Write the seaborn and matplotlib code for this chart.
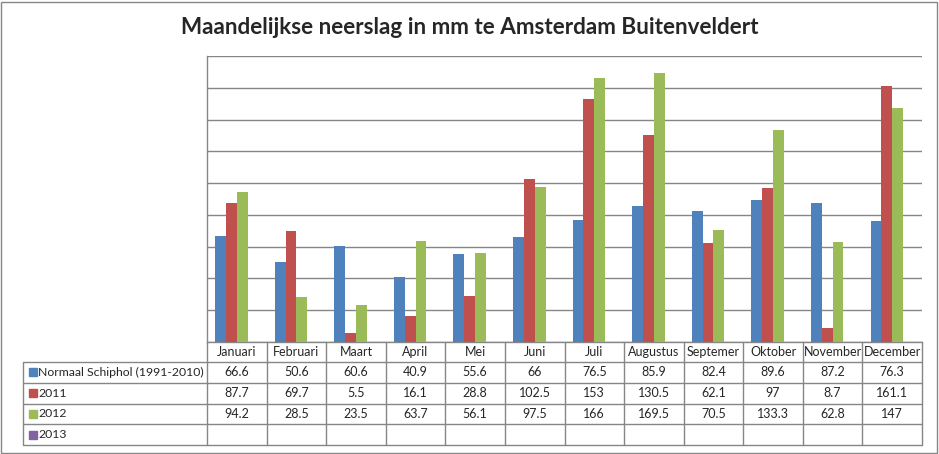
import numpy as np
import pandas as pd
import seaborn as sns
import matplotlib.pyplot as plt
from matplotlib.patches import Rectangle
from matplotlib.transforms import blended_transform_factory

months = ['Januari', 'Februari', 'Maart', 'April', 'Mei', 'Juni', 'Juli',
          'Augustus', 'Septemer', 'Oktober', 'November', 'December']
series = ['Normaal Schiphol (1991-2010)', '2011', '2012', '2013']
normaal = [66.6, 50.6, 60.6, 40.9, 55.6, 66, 76.5, 85.9, 82.4, 89.6, 87.2, 76.3]
y2011 = [87.7, 69.7, 5.5, 16.1, 28.8, 102.5, 153, 130.5, 62.1, 97, 8.7, 161.1]
y2012 = [94.2, 28.5, 23.5, 63.7, 56.1, 97.5, 166, 169.5, 70.5, 133.3, 62.8, 147]
y2013 = [np.nan] * 12
labels_normaal = ['66.6', '50.6', '60.6', '40.9', '55.6', '66', '76.5', '85.9', '82.4', '89.6', '87.2', '76.3']
labels_2011 = ['87.7', '69.7', '5.5', '16.1', '28.8', '102.5', '153', '130.5', '62.1', '97', '8.7', '161.1']
labels_2012 = ['94.2', '28.5', '23.5', '63.7', '56.1', '97.5', '166', '169.5', '70.5', '133.3', '62.8', '147']
colors = ['#4F81BD', '#C0504D', '#9BBB59', '#8064A2']

df = pd.DataFrame({
    'maand': months * 4,
    'reeks': np.repeat(series, 12),
    'mm': normaal + y2011 + y2012 + y2013,
})

sns.set_style('white')
plt.rcParams['font.family'] = ['Lato', 'DejaVu Sans']
grid_col = '#868686'

fig = plt.figure(figsize=(9.39, 4.54), dpi=100)
ax = fig.add_axes([207 / 939, 112 / 454, 715 / 939, 286 / 454])

# excel style: 4 series per month, gap width 150%
sns.barplot(data=df.dropna(), x='maand', y='mm', hue='reeks', order=months,
            hue_order=series, palette=colors, width=4 / 5.5, gap=0,
            errorbar=None, saturation=1, legend=False, ax=ax, zorder=3)
for p in ax.patches:
    p.set_linewidth(0)

ax.set_xlim(-0.5, 11.5)
ax.set_ylim(0, 180)
ax.set_yticks(range(0, 181, 20))
ax.yaxis.grid(True, color=grid_col, lw=1)
ax.set_axisbelow(True)
ax.tick_params(left=False, bottom=False, labelleft=False, labelbottom=False)
ax.set_xlabel('')
ax.set_ylabel('')
for side in ['top', 'right']:
    ax.spines[side].set_visible(False)
for side in ['left', 'bottom']:
    ax.spines[side].set_color(grid_col)
    ax.spines[side].set_linewidth(1)

# data table under the plot
tr = blended_transform_factory(ax.transData, ax.transAxes)
px = 1 / 286
head_x = (23 - 207) / 715
rows_y = [0] + [-(20 + 20.75 * i) * px for i in range(5)]
bottom = rows_y[-1]

for k in range(13):
    ax.plot([k - 0.5, k - 0.5], [0, bottom], color=grid_col, lw=1,
            transform=tr, clip_on=False)
ax.plot([head_x, head_x], [rows_y[1], bottom], color=grid_col, lw=1,
        transform=ax.transAxes, clip_on=False)
for yy in rows_y[1:]:
    ax.plot([head_x, 1], [yy, yy], color=grid_col, lw=1,
            transform=ax.transAxes, clip_on=False)

fs = 9
for i, m in enumerate(months):
    ax.text(i, (rows_y[0] + rows_y[1]) / 2, m, ha='center', va='center',
            fontsize=fs, transform=tr)

table_vals = [labels_normaal, labels_2011, labels_2012, [''] * 12]
for r, (name, vals) in enumerate(zip(series, table_vals)):
    yc = (rows_y[r + 1] + rows_y[r + 2]) / 2
    ax.add_patch(Rectangle(((29 - 207) / 715, yc - 4 * px), 8 / 715, 8 * px,
                           color=colors[r], transform=ax.transAxes,
                           clip_on=False))
    ax.text((38 - 207) / 715, yc, name, ha='left', va='center', fontsize=8.8,
            transform=ax.transAxes)
    for i, v in enumerate(vals):
        ax.text(i, yc, v, ha='center', va='center', fontsize=fs, transform=tr)

fig.text(0.5, 1 - 27 / 454, 'Maandelijkse neerslag in mm te Amsterdam Buitenveldert',
         ha='center', va='center', fontsize=16.2, fontweight='bold')

fig.patches.append(Rectangle((1 / 939, 1 / 454), 936 / 939, 451 / 454,
                             fill=False, edgecolor=grid_col, lw=1,
                             transform=fig.transFigure))

fig.savefig('out.png', dpi=100)
